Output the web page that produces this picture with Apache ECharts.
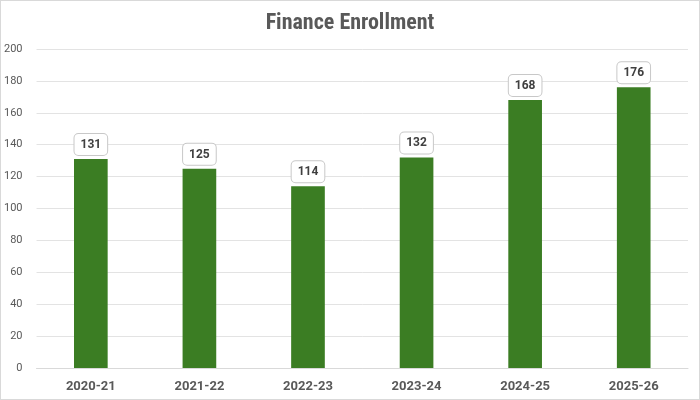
<!DOCTYPE html>
<html>
<head>
    <meta charset="utf-8">
    <script src="https://cdn.jsdelivr.net/npm/echarts@6/dist/echarts.min.js"></script>
    <style>
        html, body { margin: 0; padding: 0; background: #fff; }
        #main { width: 698px; height: 398px; border: 1px solid #d9d9d9; }
    </style>
</head>
<body>
    <div id="main"></div>
    <script type="text/javascript">
        var years = ['2020-21', '2021-22', '2022-23', '2023-24', '2024-25', '2025-26'];
        var enrollment = [131, 125, 114, 132, 168, 176];
        var yMin = 0, yMax = 200, yStep = 20;

        var myChart = echarts.init(document.getElementById('main'));
        var option = {
            animation: false,
            title: {
                text: 'Finance Enrollment',
                left: 'center',
                top: 6,
                textStyle: {
                    fontFamily: '"Liberation Sans Narrow", "Roboto Condensed", Roboto, sans-serif',
                    fontSize: 22,
                    fontWeight: 'bold',
                    color: '#595959'
                }
            },
            grid: { left: 32, right: 11, top: 48, bottom: 31 },
            xAxis: {
                type: 'category',
                data: years,
                axisLine: { lineStyle: { color: '#d9d9d9' } },
                axisTick: { show: false },
                axisLabel: {
                    margin: 12,
                    fontFamily: '"Liberation Sans Narrow", Roboto, sans-serif',
                    fontSize: 13,
                    fontWeight: 'bold',
                    color: '#595959'
                }
            },
            yAxis: {
                type: 'value',
                min: yMin,
                max: yMax,
                interval: yStep,
                axisLine: { show: false },
                axisTick: { show: false },
                splitLine: { lineStyle: { color: '#e3e3e3' } },
                axisLabel: {
                    margin: 14,
                    fontFamily: 'Roboto, sans-serif',
                    fontSize: 11,
                    color: '#595959'
                }
            },
            series: [{
                type: 'bar',
                data: enrollment,
                barWidth: '31%',
                itemStyle: { color: '#3b7d23' },
                label: {
                    show: true,
                    position: 'top',
                    distance: 4,
                    fontFamily: 'Roboto, sans-serif',
                    fontSize: 12,
                    fontWeight: 'bold',
                    color: '#404040',
                    backgroundColor: '#fff',
                    borderColor: '#c8c8c8',
                    borderWidth: 1,
                    borderRadius: 4,
                    padding: [5, 6, 4, 6]
                }
            }]
        };
        myChart.setOption(option);
    </script>
</body>
</html>
